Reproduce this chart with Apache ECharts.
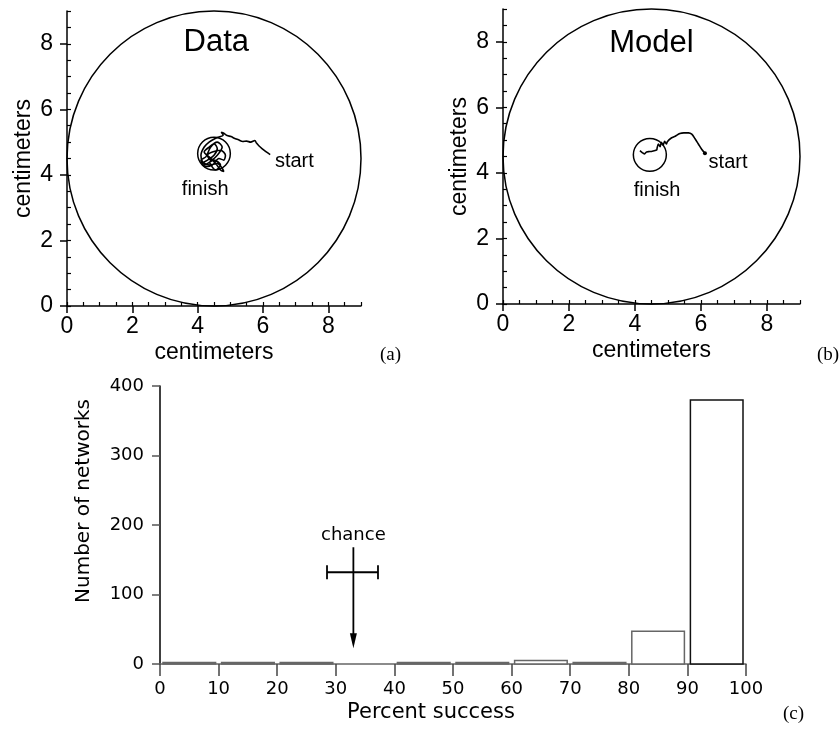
<!DOCTYPE html>
<html>
<head>
<meta charset="utf-8">
<title>Trajectories and network success</title>
<script src="https://cdn.jsdelivr.net/npm/echarts@6/dist/echarts.min.js"></script>
<style>
  html, body { margin: 0; padding: 0; background: #fff; }
  #chart { width: 839px; height: 742px; }
</style>
</head>
<body>
<div id="chart"></div>
<script>
// arena and goal circles: centre x, centre y, radius (cm)
var arena = [4.5, 4.5, 4.5];
var dataGoal = [4.5, 4.65, 0.5];
var modelGoal = [4.45, 4.55, 0.5];

// swim paths (cm)
var dataPath = [
    [6.22, 4.62], [6.1, 4.7], [6.0, 4.78], [5.88, 4.88], [5.8, 4.97], [5.75, 5.05],
    [5.62, 5.0], [5.5, 5.03], [5.38, 5.02], [5.25, 5.07], [5.12, 5.12], [5.02, 5.17],
    [4.9, 5.2], [4.8, 5.27], [4.72, 5.3], [4.78, 5.22], [4.55, 5.12], [4.35, 5.0],
    [4.2, 4.85], [4.1, 4.6], [4.15, 4.4], [4.35, 4.3], [4.6, 4.35], [4.75, 4.2],
    [4.8, 4.1], [4.7, 4.15], [4.55, 4.35], [4.35, 4.55], [4.2, 4.7], [4.35, 4.85],
    [4.5, 4.95], [4.6, 4.8], [4.5, 4.6], [4.3, 4.45], [4.15, 4.35], [4.25, 4.25],
    [4.45, 4.3], [4.65, 4.5], [4.8, 4.45], [4.85, 4.6], [4.7, 4.75], [4.45, 4.7],
    [4.3, 4.6], [4.4, 4.45], [4.6, 4.6], [4.75, 4.85], [4.6, 5.0], [4.4, 4.85],
    [4.25, 4.55], [4.1, 4.45], [4.2, 4.3], [4.5, 4.45], [4.7, 4.3], [4.55, 4.15],
    [4.35, 4.4]
];
var modelPath = [
    [6.12, 4.6], [6.02, 4.72], [5.92, 4.88], [5.82, 5.04], [5.72, 5.18], [5.62, 5.22],
    [5.48, 5.22], [5.36, 5.2], [5.22, 5.12], [5.08, 5.05], [4.98, 4.95], [4.95, 4.88],
    [4.9, 4.96], [4.85, 4.85], [4.8, 4.93], [4.76, 4.8], [4.71, 4.88], [4.67, 4.76],
    [4.66, 4.7], [4.55, 4.67], [4.45, 4.65], [4.35, 4.64], [4.28, 4.58], [4.22, 4.62],
    [4.15, 4.68]
];

var panelTitles = [[4.57, 8.03, 'Data'], [4.5, 7.96, 'Model']];
var dataNotes = [[6.96, 4.4, 'start'], [4.23, 3.54, 'finish']];
var modelNotes = [[6.82, 4.31, 'start'], [4.67, 3.45, 'finish']];

// histogram (c)
var binLow = [0, 10, 20, 30, 40, 50, 60, 70, 80, 90];
var binHigh = [10, 20, 30, 40, 50, 60, 70, 80, 90, 100];
var binCounts = [2, 2, 2, 0, 2, 2, 5, 2, 47, 380];
// chance level: mean, low, high, height of the error bar
var chanceMark = [33, 28.5, 37.2, 132];

var sansA = 'Liberation Sans, Arial, sans-serif';
var sansC = 'DejaVu Sans, sans-serif';

function arenaAxes(gridIndex) {
    var main = {
        gridIndex: gridIndex, type: 'value', min: 0, max: 9, interval: 2,
        axisLine: { lineStyle: { color: '#000', width: 1.5 } },
        axisTick: { length: 7, lineStyle: { color: '#000', width: 1.5 } },
        axisLabel: { color: '#000', fontFamily: sansA, fontSize: 23, showMaxLabel: false },
        splitLine: { show: false },
        name: 'centimeters', nameLocation: 'middle',
        nameTextStyle: { color: '#000', fontFamily: sansA, fontSize: 23 }
    };
    var minor = {
        gridIndex: gridIndex, type: 'value', min: 0, max: 9, interval: 0.5,
        axisLine: { show: false },
        axisTick: { length: 4, lineStyle: { color: '#000', width: 1.2 } },
        axisLabel: { show: false },
        splitLine: { show: false }
    };
    return { main: main, minor: minor };
}

var xa = arenaAxes(0), xb = arenaAxes(1);
var ya = arenaAxes(0), yb = arenaAxes(1);
[xa, xb].forEach(function (a) {
    a.main.axisLabel.margin = 9;
    a.main.nameGap = 35;
});
[ya, yb].forEach(function (a) {
    a.main.axisLabel.margin = 14;
    a.main.nameGap = 32;
});

function circleSeries(circle, xi, yi, lw) {
    return {
        type: 'custom', xAxisIndex: xi, yAxisIndex: yi, silent: true, clip: false,
        data: [circle],
        renderItem: function (params, api) {
            var c = api.coord([api.value(0), api.value(1)]);
            var rx = api.size([api.value(2), 0])[0];
            var ry = api.size([0, api.value(2)])[1];
            return {
                type: 'ellipse',
                shape: { cx: c[0], cy: c[1], rx: rx, ry: ry },
                style: { fill: 'none', stroke: '#000', lineWidth: lw }
            };
        }
    };
}

function pathSeries(path, xi, yi) {
    return {
        type: 'line', xAxisIndex: xi, yAxisIndex: yi, data: path, silent: true,
        showSymbol: false, smooth: 0.3,
        lineStyle: { color: '#000', width: 1.6 }
    };
}

function textSeries(items, xi, yi, size) {
    return {
        type: 'scatter', xAxisIndex: xi, yAxisIndex: yi, data: items, silent: true,
        symbolSize: 0,
        itemStyle: { opacity: 1 },
        label: {
            show: true, position: 'inside', color: '#000', opacity: 1,
            fontFamily: sansA, fontSize: size,
            formatter: function (p) { return p.data[2]; }
        }
    };
}

var histData = binLow.map(function (lo, i) { return [lo, binHigh[i], binCounts[i]]; });

var option = {
    animation: false,
    backgroundColor: '#fff',
    grid: [
        { left: 67, top: 11, width: 294, height: 295 },
        { left: 503, top: 9, width: 297, height: 295 },
        { left: 160, top: 386, width: 586, height: 278 }
    ],
    xAxis: [
        xa.main, xa.minor, xb.main, xb.minor,
        {
            gridIndex: 2, type: 'value', min: 0, max: 100, interval: 10,
            axisLine: { lineStyle: { color: '#666', width: 1.5 } },
            axisTick: { length: 12, lineStyle: { color: '#444', width: 1.5 } },
            axisLabel: { color: '#000', fontFamily: sansC, fontSize: 18, margin: 16 },
            splitLine: { show: false },
            name: 'Percent success', nameLocation: 'middle', nameGap: 38,
            nameTextStyle: { color: '#000', fontFamily: sansC, fontSize: 21, padding: [0, 44, 0, 0] }
        }
    ],
    yAxis: [
        ya.main, ya.minor, yb.main, yb.minor,
        {
            gridIndex: 2, type: 'value', min: 0, max: 400, interval: 100,
            axisLine: { show: true, lineStyle: { color: '#000', width: 1.5 } },
            axisTick: { show: true, length: 8, lineStyle: { color: '#555', width: 1.5 } },
            axisLabel: { color: '#000', fontFamily: sansC, fontSize: 18, margin: 16 },
            splitLine: { show: false },
            name: 'Number of networks', nameLocation: 'middle', nameGap: 66,
            nameTextStyle: { color: '#000', fontFamily: sansC, fontSize: 20, padding: [0, 0, 0, 48] }
        }
    ],
    graphic: [
        { type: 'text', left: 380, top: 346, style: { text: '(a)', font: '19px "Liberation Serif", serif', fill: '#000' } },
        { type: 'text', left: 817, top: 346, style: { text: '(b)', font: '19px "Liberation Serif", serif', fill: '#000' } },
        { type: 'text', left: 783, top: 705, style: { text: '(c)', font: '19px "Liberation Serif", serif', fill: '#000' } }
    ],
    series: [
        circleSeries(arena, 0, 0, 1.5),
        circleSeries(dataGoal, 0, 0, 1.5),
        pathSeries(dataPath, 0, 0),
        textSeries([panelTitles[0]], 0, 0, 31),
        textSeries(dataNotes, 0, 0, 20),

        circleSeries(arena, 2, 2, 1.5),
        circleSeries(modelGoal, 2, 2, 1.5),
        pathSeries(modelPath, 2, 2),
        {
            type: 'scatter', xAxisIndex: 2, yAxisIndex: 2, silent: true,
            data: [modelPath[0]], symbolSize: 4, itemStyle: { color: '#000', opacity: 1 }
        },
        textSeries([panelTitles[1]], 2, 2, 31),
        textSeries(modelNotes, 2, 2, 20),

        {
            type: 'custom', xAxisIndex: 4, yAxisIndex: 4, silent: true,
            data: histData,
            renderItem: function (params, api) {
                if (api.value(2) <= 0) return null;
                var top = api.coord([api.value(0), api.value(2)]);
                var base = api.coord([api.value(1), 0]);
                var last = params.dataIndex === histData.length - 1;
                return {
                    type: 'rect',
                    shape: { x: top[0] + 3, y: top[1], width: base[0] - top[0] - 6, height: base[1] - top[1] },
                    style: { fill: '#fff', stroke: last ? '#111' : '#666', lineWidth: 1.5 }
                };
            }
        },
        {
            type: 'custom', xAxisIndex: 4, yAxisIndex: 4, silent: true, clip: false,
            data: [chanceMark],
            renderItem: function (params, api) {
                var m = api.coord([api.value(0), api.value(3)]);
                var lo = api.coord([api.value(1), api.value(3)]);
                var hi = api.coord([api.value(2), api.value(3)]);
                var ink = { stroke: '#000', lineWidth: 1.8 };
                return {
                    type: 'group',
                    children: [
                        { type: 'line', shape: { x1: lo[0], y1: m[1], x2: hi[0], y2: m[1] }, style: ink },
                        { type: 'line', shape: { x1: lo[0], y1: m[1] - 7, x2: lo[0], y2: m[1] + 7 }, style: ink },
                        { type: 'line', shape: { x1: hi[0], y1: m[1] - 7, x2: hi[0], y2: m[1] + 7 }, style: ink },
                        { type: 'line', shape: { x1: m[0], y1: m[1] - 25, x2: m[0], y2: m[1] + 64 }, style: ink },
                        { type: 'polygon', shape: { points: [[m[0] - 3.5, m[1] + 61], [m[0] + 3.5, m[1] + 61], [m[0], m[1] + 76]] }, style: { fill: '#000' } },
                        { type: 'text', x: m[0], y: m[1] - 37, style: { text: 'chance', font: '18px "DejaVu Sans", sans-serif', fill: '#000', align: 'center', verticalAlign: 'middle' } }
                    ]
                };
            }
        }
    ]
};

var chart = echarts.init(document.getElementById('chart'));
chart.setOption(option);
</script>
</body>
</html>
